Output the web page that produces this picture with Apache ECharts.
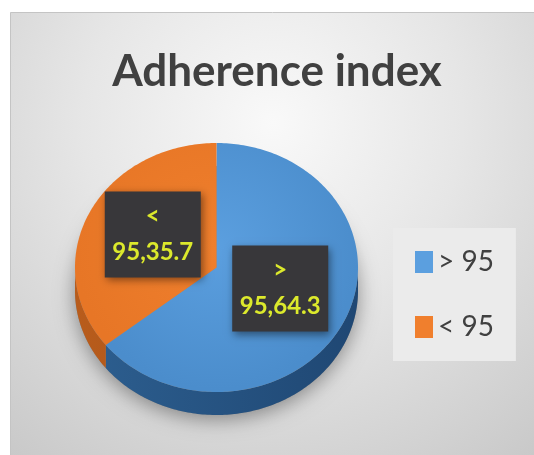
<!DOCTYPE html>
<html>
<head>
<meta charset="utf-8">
<script src="https://cdn.jsdelivr.net/npm/echarts@6/dist/echarts.min.js"></script>
<style>
  html, body { margin: 0; padding: 0; background: #fff; }
  #chart { width: 534px; height: 455px; }
</style>
</head>
<body>
<div id="chart"></div>
<script>
const categories = ['> 95', '< 95']
const values = [64.3, 35.7]
const topColors = ['#5b9fdf', '#f07f2d']
const topShade = ['#4b8dcc', '#e77626']
const sideColors = ['#2d5f90', '#b85c1c']
const sideShade = ['#1f4773', '#9a4a14']

const chart = echarts.init(document.getElementById('chart'))

// pie geometry (ellipse for the tilted top face)
const cx = 216.5
const cy = 267.5
const rx = 141.5
const ry = 124.5
const depth = 23

function pt(a, dy) {
  return [cx + rx * Math.sin(a), cy - ry * Math.cos(a) + dy]
}

function arc(from, to, dy) {
  const n = Math.max(2, Math.ceil(Math.abs(to - from) / (Math.PI / 180)) + 1)
  const pts = []
  for (let k = 0; k < n; k++) {
    pts.push(pt(from + (to - from) * k / (n - 1), dy))
  }
  return pts
}

function renderSlice(i, api) {
  const total = values.reduce((s, v) => s + v, 0)
  const before = values.slice(0, i).reduce((s, v) => s + v, 0)
  const v = api.value(0)
  const a0 = before / total * Math.PI * 2
  const a1 = (before + v) / total * Math.PI * 2
  const children = []

  if (i === 0) {
    // soft shadow under the pie
    children.push({
      type: 'polygon',
      shape: { points: arc(0, Math.PI * 2, depth) },
      style: { fill: '#888', shadowBlur: 20, shadowColor: 'rgba(0,0,0,0.4)', shadowOffsetY: 4 },
      z2: 0
    })
  }

  // visible side (front half of the ellipse)
  const s = Math.max(a0, Math.PI / 2)
  const e = Math.min(a1, Math.PI * 1.5)
  if (e > s) {
    const pts = arc(s, e, 0).concat(arc(e, s, depth))
    children.push({
      type: 'polygon',
      shape: { points: pts },
      style: {
        fill: new echarts.graphic.LinearGradient(cx - rx, 0, cx + rx, 0, [
          { offset: 0, color: sideColors[i] },
          { offset: 1, color: sideShade[i] }
        ], true)
      },
      z2: 1
    })
  }

  // top face
  children.push({
    type: 'polygon',
    shape: { points: [[cx, cy]].concat(arc(a0, a1, 0)) },
    style: {
      fill: new echarts.graphic.RadialGradient(cx, cy - 20, rx, [
        { offset: 0, color: topColors[i] },
        { offset: 1, color: topShade[i] }
      ], true)
    },
    z2: 2
  })

  // data label box
  const mid = (a0 + a1) / 2
  const lp = [cx + rx * 0.5 * Math.sin(mid), cy - ry * 0.5 * Math.cos(mid) - 6]
  const bw = 96
  const bh = 86
  children.push({
    type: 'rect',
    shape: { x: lp[0] - bw / 2, y: lp[1] - bh / 2, width: bw, height: bh },
    style: { fill: '#38373a', shadowBlur: 8, shadowColor: 'rgba(0,0,0,0.45)', shadowOffsetX: 2, shadowOffsetY: 3 },
    z2: 50
  })
  children.push({
    type: 'text',
    x: lp[0],
    y: lp[1],
    style: {
      text: categories[i].replace(' ', '\n') + ',' + v,
      fill: '#dce92c',
      fontSize: 24,
      fontWeight: 'bold',
      fontFamily: 'Lato',
      lineHeight: 36,
      align: 'center',
      verticalAlign: 'middle'
    },
    z2: 51
  })

  return { type: 'group', children }
}

chart.setOption({
  animation: false,
  color: topColors,
  graphic: [
    {
      type: 'rect',
      left: 10,
      top: 12,
      silent: true,
      z: -10,
      shape: { width: 524, height: 443 },
      style: {
        fill: new echarts.graphic.RadialGradient(0.5, 0.25, 0.95, [
          { offset: 0, color: '#f9f9f9' },
          { offset: 0.45, color: '#e6e6e6' },
          { offset: 1, color: '#c9c9c9' }
        ]),
        stroke: '#c4c4c4',
        lineWidth: 1
      }
    }
  ],
  title: {
    text: 'Adherence index',
    left: 272,
    top: 45,
    textAlign: 'center',
    textStyle: { fontSize: 44, fontWeight: 'bold', fontFamily: 'Lato', color: '#404040' }
  },
  legend: {
    data: categories,
    orient: 'vertical',
    left: 393,
    top: 228,
    padding: [20, 22, 20, 22],
    itemWidth: 18,
    itemHeight: 22,
    itemGap: 37,
    icon: 'rect',
    selectedMode: false,
    backgroundColor: '#ebebeb',
    textStyle: { fontSize: 28, color: '#404040', fontFamily: 'Lato' }
  },
  series: categories.map((name, i) => ({
    name,
    type: 'custom',
    coordinateSystem: 'none',
    data: [values[i]],
    itemStyle: { color: topColors[i] },
    renderItem: (params, api) => renderSlice(i, api)
  }))
})
</script>
</body>
</html>
